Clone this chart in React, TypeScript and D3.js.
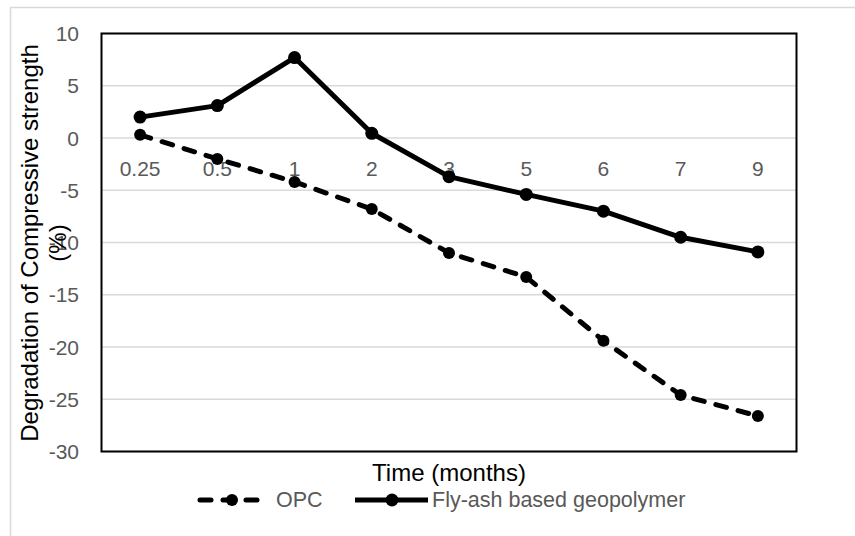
import React from "react";
import * as d3 from "d3";

// Exposure time in months (category axis)
const months = ["0.25", "0.5", "1", "2", "3", "5", "6", "7", "9"];
// Degradation of compressive strength (%)
const opc = [0.3, -2.0, -4.2, -6.8, -11.0, -13.3, -19.4, -24.6, -26.6];
const flyAsh = [2.0, 3.1, 7.7, 0.45, -3.7, -5.4, -7.0, -9.5, -10.9];
const yTicks = [10, 5, 0, -5, -10, -15, -20, -25, -30];

const W = 855;
const H = 536;
const plot = { left: 101.5, right: 796.5, top: 33.5, bottom: 451.5 };
const FONT = "'Liberation Sans', Arial, sans-serif";
const GREY_TEXT = "#595959";

export default function App() {
  const x = d3
    .scaleBand<string>()
    .domain(months)
    .range([plot.left, plot.right])
    .padding(0);
  const y = d3.scaleLinear().domain([-30, 10]).range([plot.bottom, plot.top]);
  const cx = (m: string) => (x(m) as number) + x.bandwidth() / 2;

  const line = d3
    .line<number>()
    .x((_, i) => cx(months[i]))
    .y((v) => y(v));

  const dash = "11 12";
  const sw = 5;

  return (
    <svg
      width={W}
      height={H}
      style={{ position: "absolute", left: 0, top: 0, background: "#fff" }}
      fontFamily={FONT}
    >
      <rect x={0} y={0} width={W} height={H} fill="#fff" />
      {/* chart area frame */}
      <rect x={10.5} y={7.5} width={900} height={600} fill="none" stroke="#d9d9d9" strokeWidth={1.5} />

      {/* horizontal gridlines */}
      {yTicks.map((t) => (
        <line
          key={"g" + t}
          x1={plot.left}
          x2={plot.right}
          y1={y(t)}
          y2={y(t)}
          stroke="#d9d9d9"
          strokeWidth={1.5}
        />
      ))}

      {/* plot border */}
      <rect
        x={plot.left}
        y={plot.top}
        width={plot.right - plot.left}
        height={plot.bottom - plot.top}
        fill="none"
        stroke="#000"
        strokeWidth={2}
      />

      {/* y tick labels */}
      {yTicks.map((t) => (
        <text
          key={"yt" + t}
          x={79}
          y={y(t) + 7.5}
          textAnchor="end"
          fontSize={21}
          fill={GREY_TEXT}
        >
          {t}
        </text>
      ))}

      {/* category labels sit just below the zero line */}
      {months.map((m) => (
        <text key={"xt" + m} x={cx(m)} y={176} textAnchor="middle" fontSize={21} fill={GREY_TEXT}>
          {m}
        </text>
      ))}

      {/* OPC series */}
      <path
        d={line(opc) as string}
        fill="none"
        stroke="#000"
        strokeWidth={sw}
        strokeDasharray={dash}
        strokeLinecap="round"
        strokeLinejoin="round"
      />
      {opc.map((v, i) => (
        <circle key={"o" + i} cx={cx(months[i])} cy={y(v)} r={6} fill="#000" />
      ))}

      {/* Fly-ash geopolymer series */}
      <path
        d={line(flyAsh) as string}
        fill="none"
        stroke="#000"
        strokeWidth={sw}
        strokeLinejoin="round"
      />
      {flyAsh.map((v, i) => (
        <circle key={"f" + i} cx={cx(months[i])} cy={y(v)} r={6.5} fill="#000" />
      ))}

      {/* axis titles */}
      <text
        transform={`translate(38, 243) rotate(-90)`}
        textAnchor="middle"
        fontSize={24}
        fill="#000"
      >
        Degradation of Compressive strength
      </text>
      <text
        transform={`translate(66, 243) rotate(-90)`}
        textAnchor="middle"
        fontSize={24}
        fill="#000"
      >
        (%)
      </text>
      <text x={(plot.left + plot.right) / 2} y={481} textAnchor="middle" fontSize={24} fill="#000">
        Time (months)
      </text>

      {/* legend */}
      <g>
        <line
          x1={200}
          x2={263}
          y1={500}
          y2={500}
          stroke="#000"
          strokeWidth={sw}
          strokeDasharray={dash}
          strokeLinecap="round"
        />
        <circle cx={232} cy={500} r={6} fill="#000" />
        <text x={276} y={507} fontSize={21.5} fill={GREY_TEXT}>
          OPC
        </text>
        <line x1={355} x2={428} y1={500} y2={500} stroke="#000" strokeWidth={sw} />
        <circle cx={392} cy={500} r={6.5} fill="#000" />
        <text x={432} y={507} fontSize={21.5} fill={GREY_TEXT}>
          Fly-ash based geopolymer
        </text>
      </g>
    </svg>
  );
}
